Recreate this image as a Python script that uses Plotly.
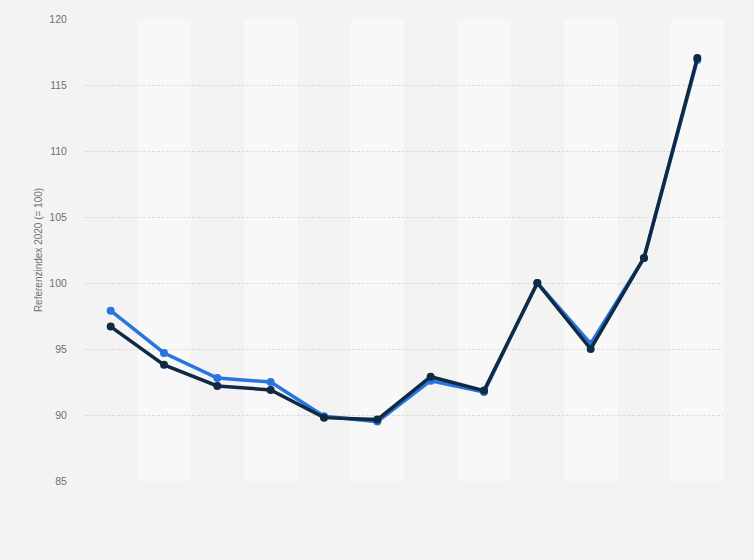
import plotly.graph_objects as go

# %% Data
years = ['2011', '2012', '2013', '2014', '2015', '2016',
         '2017', '2018', '2019', '2020', '2021', '2022']
series_blue = [97.9, 94.7, 92.8, 92.5, 89.9, 89.5, 92.6, 91.75, 100.0, 95.4, 101.9, 116.9]
series_dark = [96.7, 93.8, 92.2, 91.9, 89.8, 89.65, 92.9, 91.85, 100.0, 95.0, 101.9, 117.05]
y_ticks = [85, 90, 95, 100, 105, 110, 115, 120]

blue = '#2876dd'
dark = '#0f2a42'

fig = go.Figure()
fig.add_trace(go.Scatter(x=years, y=series_blue, mode='lines+markers',
                         line=dict(color=blue, width=3.5),
                         marker=dict(color=blue, size=8)))
fig.add_trace(go.Scatter(x=years, y=series_dark, mode='lines+markers',
                         line=dict(color=dark, width=3.5),
                         marker=dict(color=dark, size=8)))

# alternating column bands
for i in range(1, len(years), 2):
    fig.add_shape(type='rect', xref='x', yref='y',
                  x0=i - 0.5, x1=i + 0.5, y0=85, y1=120,
                  fillcolor='#f8f8f8', line_width=0, layer='below')

#%% Formatting
fig.update_layout(width=754, height=560, showlegend=False,
                  margin=dict(l=84, r=30, t=19, b=79),
                  paper_bgcolor='#f3f3f3', plot_bgcolor='#f3f3f3',
                  font=dict(family='Liberation Sans, Arial, sans-serif', color='#666666'))

fig.update_xaxes(range=[-0.5, 11.5], showticklabels=False, showgrid=False,
                 zeroline=False, showline=False, ticks='')
fig.update_yaxes(range=[85, 120], tickvals=y_ticks, showgrid=True,
                 gridcolor='#cccccc', griddash='1px,1.5px', gridwidth=1,
                 zeroline=False, showline=False, ticks='outside', ticklen=14,
                 tickcolor='rgba(0,0,0,0)', tickfont=dict(size=10.5, color='#707070'),
                 title=dict(text='Referenzindex 2020 (= 100)', standoff=4,
                            font=dict(size=10, color='#707070')))

# drop the page margin so the chart sits flush in the window
fig.write_html("out.html", config={'displayModeBar': False},
               post_script="document.body.style.margin='0';document.body.style.overflow='hidden';")
